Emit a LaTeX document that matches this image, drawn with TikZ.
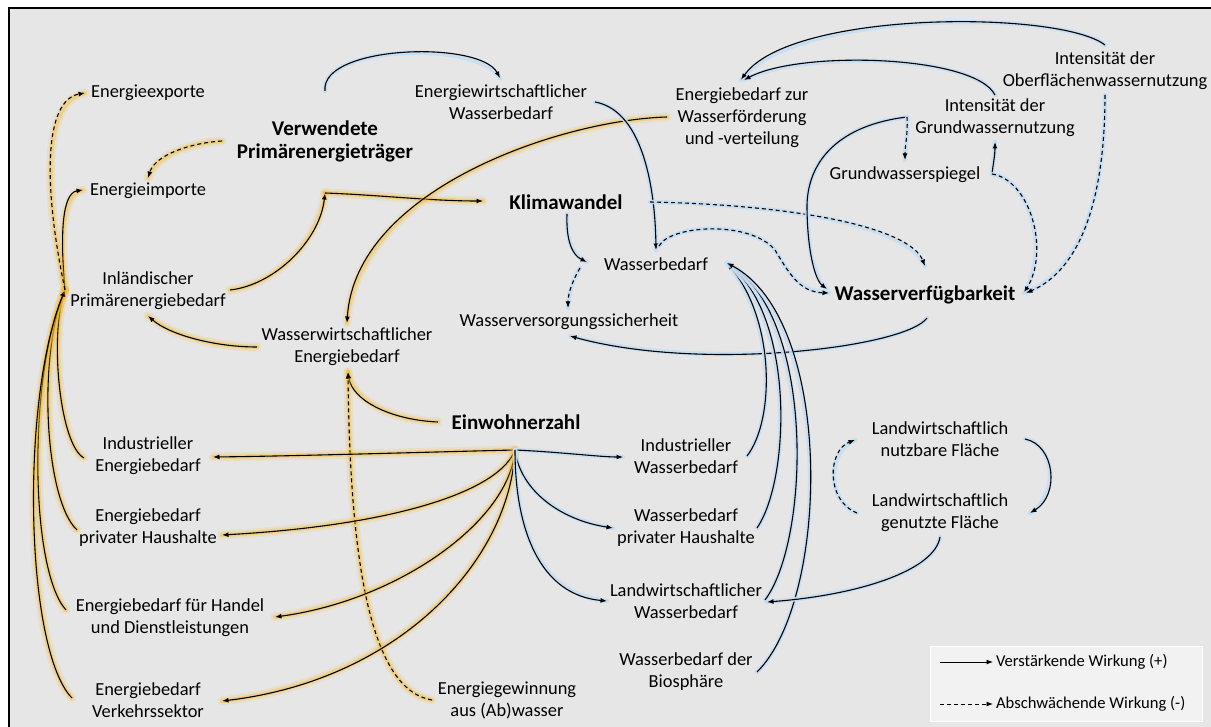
\documentclass[tikz,border=0pt]{standalone}
\usepackage{fontspec}
\setmainfont{Carlito}
\usetikzlibrary{arrows.meta}
\definecolor{bg}{HTML}{E6E6E6}
\definecolor{glowY}{HTML}{F5BA2E}
\definecolor{glowB}{HTML}{C6DEF2}
\definecolor{legbg}{HTML}{F2F2F2}
\tikzset{
  x=1pt,y=-1pt,
  lbl/.style={align=center, inner sep=0pt, outer sep=3pt, font=\fontsize{18.4}{22}\selectfont},
  key/.style={lbl, font=\fontsize{21}{23}\selectfont\bfseries},
  legtxt/.style={lbl, anchor=west, font=\fontsize{16.6}{20}\selectfont},
  lk/.style={line width=1.1pt, -{Latex[length=6.5pt,width=5pt]}},
  neg/.style={lk, dash pattern=on 4pt off 3pt},
  eg/.style={preaction={draw=glowY, line width=9pt, opacity=.15, solid, arrows=-, line cap=round},
             preaction={draw=glowY, line width=4.5pt, opacity=.4, solid, arrows=-, line cap=round}},
  wg/.style={preaction={draw=glowB, line width=4.5pt, opacity=.9, solid, arrows=-, line cap=round}},
}
\begin{document}
\begin{tikzpicture}
\useasboundingbox (0,0) rectangle (1211,727);
\draw[line width=1.5pt, fill=bg] (9,8) rectangle (1220,740);

% nodes
\node[lbl] (exp) at (148,93) {Energieexporte};
\node[key] (vpt) at (325,141) {Verwendete\\Primärenergieträger};
\node[lbl] (imp) at (148,191) {Energieimporte};
\node[lbl] (ewb) at (501,102) {Energiewirtschaftlicher\\Wasserbedarf};
\node[lbl] (ezw) at (742,118) {Energiebedarf zur\\Wasserförderung\\und -verteilung};
\node[lbl] (iow) at (1105,71) {Intensität der\\Oberflächenwassernutzung};
\node[lbl] (igw) at (995,118) {Intensität der\\Grundwassernutzung};
\node[lbl] (gws) at (905,175) {Grundwasserspiegel};
\node[key] (kw) at (566,202) {Klimawandel};
\node[lbl] (wb) at (656,264) {Wasserbedarf};
\node[key] (wv) at (925,295) {Wasserverfügbarkeit};
\node[lbl] (wvs) at (569,322) {Wasserversorgungssicherheit};
\node[lbl] (ipb) at (148,291) {Inländischer\\Primärenergiebedarf};
\node[lbl] (wwe) at (347,347) {Wasserwirtschaftlicher\\Energiebedarf};
\node[key] (ez) at (516,422) {Einwohnerzahl};
\node[lbl] (ie) at (148,456) {Industrieller\\Energiebedarf};
\node[lbl] (eph) at (148,528) {Energiebedarf\\privater Haushalte};
\node[lbl] (ehd) at (170,618) {Energiebedarf für Handel\\und Dienstleistungen};
\node[lbl] (evs) at (148,700) {Energiebedarf\\Verkehrssektor};
\node[lbl] (egw) at (507,700) {Energiegewinnung\\aus (Ab)wasser};
\node[lbl] (iw) at (686,456) {Industrieller\\Wasserbedarf};
\node[lbl] (wph) at (686,528) {Wasserbedarf\\privater Haushalte};
\node[lbl] (lwb) at (686,601) {Landwirtschaftlicher\\Wasserbedarf};
\node[lbl] (wbb) at (686,672) {Wasserbedarf der\\Biosphäre};
\node[lbl] (lnf) at (940,439) {Landwirtschaftlich\\nutzbare Fläche};
\node[lbl] (lgf) at (940,513) {Landwirtschaftlich\\genutzte Fläche};

% junction points
\coordinate (hubL) at ([shift={(-83,-1)}]ipb.center);
\coordinate (hubE) at ([shift={(-1,28)}]ez.center);
\coordinate (hubV) at ([shift={(0,52)}]vpt.center);
\coordinate (hubG) at ([shift={(87,-1)}]gws.center);
\coordinate (hubW) at ([shift={(-88,-1)}]igw.center);

% ---------- energy (yellow glow) ----------
\draw[lk,eg] ([shift={(-64,2)}]ie.center) .. controls (60,445) and (50,340) .. (hubL);
\draw[lk,eg] ([shift={(-71,2)}]eph.center) .. controls (45,500) and (38,360) .. (hubL);
\draw[lk,eg] ([shift={(-104,-8)}]ehd.center) .. controls (30,570) and (28,380) .. (hubL);
\draw[lk,eg] ([shift={(-76,-2)}]evs.center) .. controls (25,650) and (20,400) .. (hubL);
\draw[lk,eg] (hubL) .. controls (60,235) and (62,193) .. ([shift={(-65,-1)}]imp.center);
\draw[neg,eg] (hubL) .. controls (42,180) and (45,100) .. ([shift={(-63,0)}]exp.center);

\draw[lk,eg] ([shift={(82,-1)}]ipb.center) .. controls (275,285) and (320,240) .. (hubV);
\draw[lk,eg] (hubV) .. controls (380,195) and (430,201) .. ([shift={(-83,-1)}]kw.center);
\draw[neg,eg] ([shift={(-103,0)}]vpt.center) .. controls (190,143) and (155,155) .. ([shift={(0,-13)}]imp.center);
\draw[lk,eg] ([shift={(-75,-1)}]ezw.center) .. controls (560,120) and (355,190) .. ([shift={(0,-24)}]wwe.center);
\draw[lk,eg] ([shift={(-90,0)}]wwe.center) .. controls (215,347) and (170,335) .. ([shift={(0,25)}]ipb.center);
\draw[lk,eg] ([shift={(-78,0)}]ez.center) .. controls (390,420) and (352,400) .. ([shift={(1,25)}]wwe.center);
\draw[neg,eg] ([shift={(-75,0)}]egw.center) .. controls (370,690) and (350,560) .. ([shift={(1,25)}]wwe.center);

\draw[lk,eg] (hubE) .. controls (430,452) and (300,456) .. ([shift={(65,1)}]ie.center);
\draw[lk,eg] (hubE) .. controls (500,490) and (400,525) .. ([shift={(74,7)}]eph.center);
\draw[lk,eg] (hubE) .. controls (510,520) and (400,600) .. ([shift={(105,-1)}]ehd.center);
\draw[lk,eg] (hubE) .. controls (510,560) and (400,680) .. ([shift={(74,1)}]evs.center);

% ---------- water (blue glow) ----------
\draw[lk,wg] (hubE) .. controls (560,452) and (600,457) .. ([shift={(-63,1)}]iw.center);
\draw[lk,wg] (hubE) .. controls (520,490) and (560,520) .. ([shift={(-73,0)}]wph.center);
\draw[lk,wg] (hubE) .. controls (515,530) and (540,595) .. ([shift={(-79,0)}]lwb.center);

\draw[lk,wg] ([shift={(0,-26)}]iow.center) .. controls (1060,10) and (790,10) .. ([shift={(-1,-38)}]ezw.center);
\draw[lk,wg] ([shift={(0,-23)}]igw.center) .. controls (975,55) and (800,50) .. ([shift={(2,-38)}]ezw.center);
\draw[lk,wg] ([shift={(0,-50)}]vpt.center) .. controls (320,45) and (480,40) .. ([shift={(-1,-24)}]ewb.center);
\draw[lk,wg] ([shift={(94,0)}]ewb.center) .. controls (640,110) and (655,180) .. ([shift={(0,-14)}]wb.center);
\draw[neg,wg] ([shift={(84,0)}]kw.center) .. controls (800,205) and (910,228) .. ([shift={(0,-29)}]wv.center);
\draw[lk,wg] ([shift={(1,12)}]kw.center) .. controls (566,240) and (572,255) .. ([shift={(-69,-2)}]wb.center);
\draw[neg,wg] ([shift={(-76,4)}]wb.center) .. controls (574,278) and (568,292) .. ([shift={(-1,-14)}]wvs.center);
\draw[neg,wg] ([shift={(3,-18)}]wb.center) .. controls (670,225) and (750,220) .. (775,250)
   .. controls (790,275) and (800,292) .. ([shift={(-96,-2)}]wv.center);
\draw[lk,wg] (hubW) .. controls (840,125) and (808,160) .. (807,205)
   .. controls (807,250) and (815,280) .. ([shift={(-98,-6)}]wv.center);
\draw[neg,wg] (hubW) .. controls (908,135) and (905,145) .. ([shift={(0,-15)}]gws.center);
\draw[lk,wg] (hubG) .. controls (993,165) and (995,155) .. ([shift={(0,24)}]igw.center);
\draw[neg,wg] (hubG) .. controls (1030,180) and (1050,250) .. ([shift={(99,-2)}]wv.center);
\draw[neg,wg] ([shift={(0,24)}]iow.center) .. controls (1105,200) and (1080,270) .. ([shift={(101,-2)}]wv.center);
\draw[lk,wg] ([shift={(2,23)}]wv.center) .. controls (905,348) and (700,372) .. ([shift={(1,14)}]wvs.center);

\draw[lk,wg] ([shift={(61,0)}]iw.center) .. controls (775,420) and (775,320) .. ([shift={(71,-1)}]wb.center);
\draw[lk,wg] ([shift={(71,0)}]wph.center) .. controls (790,480) and (795,320) .. ([shift={(71,-1)}]wb.center);
\draw[lk,wg] ([shift={(79,-1)}]lwb.center) .. controls (810,540) and (815,320) .. ([shift={(71,-1)}]wb.center);
\draw[lk,wg] ([shift={(71,0)}]wbb.center) .. controls (830,600) and (835,320) .. ([shift={(71,-1)}]wb.center);

\draw[lk,wg] ([shift={(0,24)}]lgf.center) .. controls (935,570) and (860,595) .. ([shift={(81,1)}]lwb.center);
\draw[lk,wg] ([shift={(85,0)}]lnf.center) .. controls (1055,445) and (1060,495) .. ([shift={(90,0)}]lgf.center);
\draw[neg,wg] ([shift={(-83,0)}]lgf.center) .. controls (825,500) and (828,450) .. ([shift={(-85,1)}]lnf.center);

% ---------- legend ----------
\node[draw=white, line width=1pt, fill=legbg, minimum width=272pt, minimum height=75pt, inner sep=0pt] (leg) at (1066,683.5) {};
\node[legtxt] (l1) at (993,662) {Verstärkende Wirkung (+)};
\node[legtxt] (l2) at (993,704) {Abschwächende Wirkung (-)};
\draw[lk, line width=0.9pt] ([shift={(-53,0)}]l1.west) -- (l1.west);
\draw[neg, line width=0.9pt] ([shift={(-53,0)}]l2.west) -- (l2.west);
\end{tikzpicture}
\end{document}
